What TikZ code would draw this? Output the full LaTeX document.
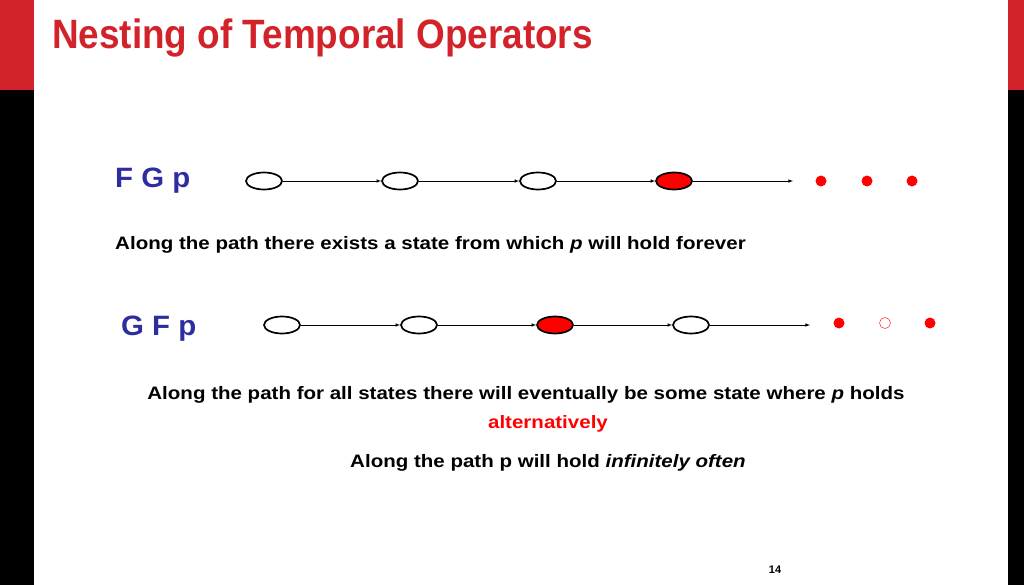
\documentclass[tikz,border=0pt]{standalone}
\usepackage{fontspec}
\setmainfont{Liberation Sans}
\usetikzlibrary{shapes.geometric}
\definecolor{tred}{RGB}{210,35,42}
\definecolor{tblue}{RGB}{45,45,160}
\begin{document}
\begin{tikzpicture}[x=1pt,y=-1pt,
  st/.style={draw,ellipse,line width=1.7pt,minimum width=36pt,minimum height=17pt,inner sep=0pt},
  fst/.style={st,fill=red},
  dt/.style={circle,fill=red,minimum size=11pt,inner sep=0pt},
  hdt/.style={circle,draw=red,fill=white,minimum size=11pt,inner sep=0pt,thin},
  arr/.style={->,>=latex,semithick},
  txt/.style={font=\bfseries\fontsize{18}{20}\selectfont,xscale=1.14,inner sep=0pt},
  lbl/.style={anchor=west,text=tblue,font=\bfseries\fontsize{28}{30}\selectfont,xscale=1.05,inner sep=0pt}]
\useasboundingbox (0,0) rectangle (1024,585);
\fill[tred] (0,0) rectangle (34,90);
\fill[black] (0,90) rectangle (34,585);
\fill[tred] (1008,0) rectangle (1024,90);
\fill[black] (1008,90) rectangle (1024,585);
\node[anchor=west,text=tred,font=\bfseries\fontsize{41}{44}\selectfont,xscale=0.9,inner sep=0pt] (title) at (52,38) {Nesting of Temporal Operators};
% row 1
\node[lbl] (fg) at (115,181) {F G p};
\node[st] (a1) at (264,181) {};
\node[st] (a2) at (400,181) {};
\node[st] (a3) at (538,181) {};
\node[fst] (a4) at (674,181) {};
\coordinate (ae) at (793,181);
\draw[arr] (a1) -- (a2); \draw[arr] (a2) -- (a3); \draw[arr] (a3) -- (a4); \draw[arr] (a4) -- (ae);
\node[dt] (ad1) at (821,181) {}; \node[dt] (ad2) at (867,181) {}; \node[dt] (ad3) at (912,181) {};
\node[txt,anchor=west] (t1) at (115,245) {Along the path there exists a state from which \textit{p} will hold forever};
% row 2
\node[lbl] (gf) at (121,329) {G F p};
\node[st] (b1) at (282,325) {};
\node[st] (b2) at (419,325) {};
\node[fst] (b3) at (555,325) {};
\node[st] (b4) at (691,325) {};
\coordinate (be) at (810,325);
\draw[arr] (b1) -- (b2); \draw[arr] (b2) -- (b3); \draw[arr] (b3) -- (b4); \draw[arr] (b4) -- (be);
\node[dt] (bd1) at (839,323) {}; \node[hdt] (bd2) at (885,323) {}; \node[dt] (bd3) at (930,323) {};
\node[txt] (t2) at (526,395) {Along the path for all states there will eventually be some state where \textit{p} holds};
\node[txt,text=red] (t3) at (548,424) {alternatively};
\node[txt,anchor=west] (t4) at (350,463) {Along the path p will hold \textit{infinitely often}};
\node[font=\bfseries\fontsize{11}{12}\selectfont] (pg) at (775,570) {14};
\end{tikzpicture}
\end{document}
